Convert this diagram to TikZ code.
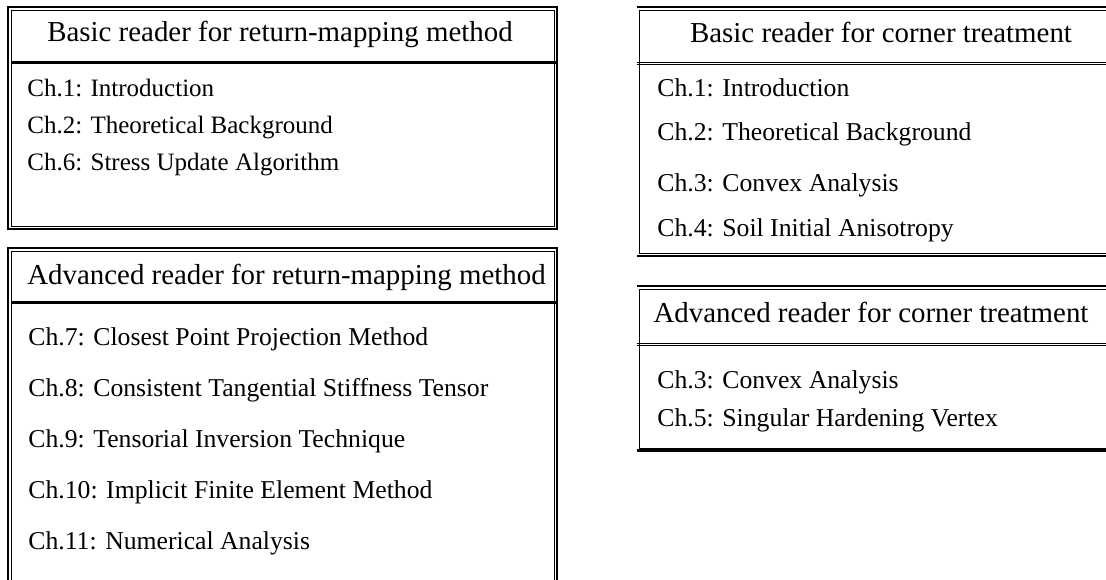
\documentclass[tikz,border=0pt]{standalone}
\usepackage{fontspec}
\setmainfont{Liberation Serif}
\usepackage{tikz}
\usetikzlibrary{positioning}

\begin{document}
\begin{tikzpicture}[
    x=0.5pt, y=-0.5pt,
    head/.style={anchor=base, inner sep=0pt, font=\fontsize{14.45}{18}\selectfont},
    item/.style={anchor=base west, inner sep=0pt, font=\fontsize{12.5}{15}\selectfont},
    itemb/.style={item, font=\fontsize{12.85}{15}\selectfont},
    outer/.style={line width=1.1pt},
    inner/.style={line width=0.5pt}
]
\useasboundingbox (0,0) rectangle (1106,579);

% left column: return-mapping method
\draw[outer] (8,7) rectangle (557,229);
\draw[inner] (11,10) rectangle (554,226);
\draw[outer] (11,62.5) -- (557,62.5);
\node[head] (rmbasic) at (280,41) {Basic reader for return-mapping method};
\node[item] (rm1) at (27,96) {Ch.1: Introduction};
\node[item] (rm2) at (27,133) {Ch.2: Theoretical Background};
\node[item] (rm6) at (27,170) {Ch.6: Stress Update Algorithm};

\draw[outer] (8,600) -- (8,248) -- (557,248) -- (557,600);
\draw[inner] (11,600) -- (11,251) -- (554,251) -- (554,600);
\draw[outer] (11,302.5) -- (557,302.5);
\node[head] (rmadv) at (286.5,284) {Advanced reader for return-mapping method};
\node[itemb] (rm7) at (28,345) {Ch.7: Closest Point Projection Method};
\node[itemb] (rm8) at (28,396) {Ch.8: Consistent Tangential Stiffness Tensor};
\node[itemb] (rm9) at (28,447) {Ch.9: Tensorial Inversion Technique};
\node[itemb] (rm10) at (28,498) {Ch.10: Implicit Finite Element Method};
\node[itemb] (rm11) at (28,549) {Ch.11: Numerical Analysis};

% right column: corner treatment
\draw[outer] (637,7) -- (1120,7);
\draw[inner] (1120,10) -- (639,10) -- (639,253) -- (1120,253);
\draw[outer] (637,256) -- (1120,256);
\draw[inner] (637,62) -- (1120,62);
\draw[inner] (637,64.5) -- (1120,64.5);
\node[head] (cnbasic) at (881,42) {Basic reader for corner treatment};
\node[itemb] (cn1) at (657,96) {Ch.1: Introduction};
\node[itemb] (cn2) at (657,140) {Ch.2: Theoretical Background};
\node[itemb] (cn3) at (657,191) {Ch.3: Convex Analysis};
\node[itemb] (cn4) at (657,236) {Ch.4: Soil Initial Anisotropy};

\draw[outer] (637,286) -- (1120,286);
\draw[inner] (1120,289) -- (639,289) -- (639,448) -- (1120,448);
\draw[outer] (637,450.5) -- (1120,450.5);
\draw[inner] (637,343) -- (1120,343);
\draw[inner] (637,345.5) -- (1120,345.5);
\node[head] (cnadv) at (871,322) {Advanced reader for corner treatment};
\node[itemb] (cnadv3) at (657,388) {Ch.3: Convex Analysis};
\node[itemb] (cnadv5) at (657,426) {Ch.5: Singular Hardening Vertex};
\end{tikzpicture}
\end{document}
